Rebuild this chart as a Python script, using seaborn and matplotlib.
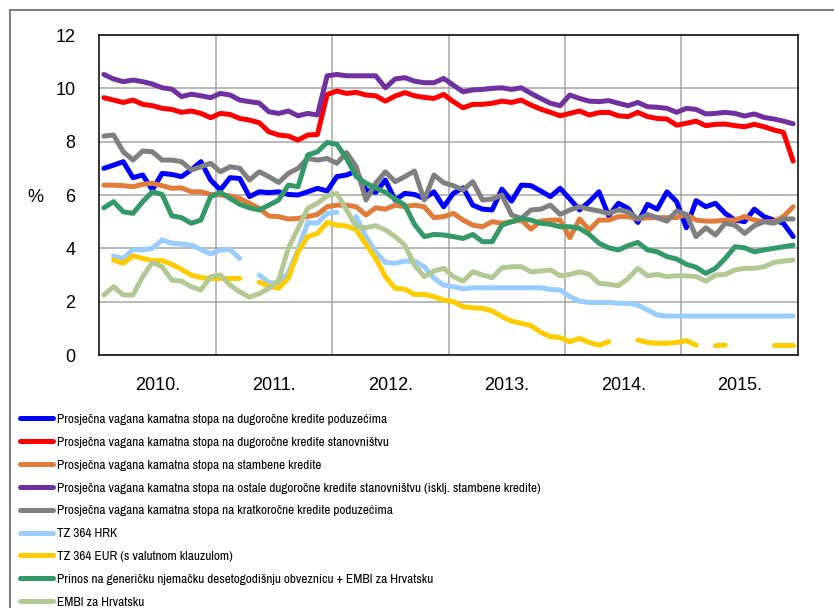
import matplotlib
matplotlib.use("Agg")
import matplotlib.pyplot as plt
import numpy as np
import pandas as pd
import seaborn as sns
from matplotlib.lines import Line2D
from matplotlib import font_manager as fm

N = None
# ---- data (monthly, Jan 2010 - Dec 2015) ----
year_labels = ["2010.", "2011.", "2012.", "2013.", "2014.", "2015."]

dugorocni_poduzeca = [
    7.0, 7.12, 7.25, 6.65, 6.75, 6.19, 6.81, 6.77, 6.69, 6.94, 7.25, 6.56, 6.19, 6.65, 6.62, 5.94, 6.12, 6.09,
    6.12, 6.02, 6.0, 6.12, 6.25, 6.15, 6.69, 6.75, 6.9, 6.19, 6.1, 6.56, 5.81, 6.06, 6.02, 5.87, 6.12, 5.56,
    6.06, 6.27, 5.62, 5.47, 5.44, 6.22, 5.77, 6.37, 6.35, 6.15, 5.94, 6.25, 5.85, 5.44, 5.75, 6.12, 5.22, 5.69,
    5.5, 4.97, 5.65, 5.47, 6.12, 5.75, 4.77, 5.79, 5.56, 5.69, 5.31, 5.06, 5.0, 5.47, 5.19, 5.06, 4.94, 4.44]

dugorocni_stanovnistvo = [
    9.65, 9.56, 9.47, 9.56, 9.4, 9.35, 9.25, 9.21, 9.1, 9.15, 9.06, 8.9, 9.06, 9.02, 8.87, 8.81, 8.71, 8.37,
    8.25, 8.21, 8.06, 8.25, 8.27, 9.77, 9.9, 9.81, 9.85, 9.75, 9.72, 9.52, 9.71, 9.84, 9.72, 9.66, 9.62, 9.77,
    9.5, 9.27, 9.4, 9.4, 9.44, 9.52, 9.47, 9.56, 9.37, 9.22, 9.1, 8.97, 9.06, 9.15, 9.0, 9.09, 9.1, 8.97,
    8.94, 9.1, 8.94, 8.87, 8.85, 8.62, 8.69, 8.77, 8.6, 8.65, 8.66, 8.6, 8.56, 8.65, 8.56, 8.44, 8.35, 7.27]

stambeni = [
    6.37, 6.37, 6.35, 6.31, 6.4, 6.44, 6.35, 6.25, 6.27, 6.12, 6.12, 6.02, 6.0, 5.97, 5.87, 5.69, 5.5, 5.21,
    5.19, 5.1, 5.12, 5.19, 5.27, 5.56, 5.62, 5.62, 5.56, 5.25, 5.52, 5.47, 5.62, 5.56, 5.62, 5.56, 5.15, 5.19,
    5.31, 5.06, 4.87, 4.81, 5.0, 4.94, 5.0, 5.06, 4.72, 5.02, 5.06, 5.06, 4.4, 5.1, 4.69, 5.06, 5.06, 5.19,
    5.19, 5.1, 5.15, 5.15, 5.15, 5.15, 5.27, 5.06, 5.02, 5.02, 5.06, 5.06, 5.19, 5.06, 5.0, 5.0, 5.19, 5.56]

ostali_stanovnistvo = [
    10.52, 10.35, 10.25, 10.31, 10.25, 10.16, 10.02, 9.97, 9.69, 9.78, 9.72, 9.65, 9.81, 9.75, 9.56, 9.5, 9.45, 9.12,
    9.06, 9.15, 8.97, 9.06, 9.0, 10.47, 10.52, 10.47, 10.47, 10.47, 10.47, 10.02, 10.35, 10.4, 10.27, 10.21, 10.21, 10.37,
    10.12, 9.87, 9.94, 9.96, 10.0, 10.02, 9.96, 10.02, 9.81, 9.62, 9.44, 9.35, 9.75, 9.62, 9.52, 9.5, 9.54, 9.44,
    9.35, 9.47, 9.31, 9.29, 9.25, 9.1, 9.25, 9.21, 9.04, 9.06, 9.1, 9.06, 8.96, 9.04, 8.91, 8.85, 8.77, 8.67]

kratkorocni_poduzeca = [
    8.21, 8.25, 7.62, 7.31, 7.65, 7.62, 7.31, 7.31, 7.25, 6.94, 7.06, 7.19, 6.87, 7.06, 7.0, 6.56, 6.87, 6.69,
    6.47, 6.81, 7.0, 7.37, 7.31, 7.37, 7.19, 7.59, 7.06, 5.81, 6.44, 6.87, 6.5, 6.69, 6.9, 5.81, 6.75, 6.46,
    6.35, 6.19, 6.5, 5.81, 5.85, 6.0, 5.25, 5.12, 5.44, 5.47, 5.62, 5.27, 5.44, 5.56, 5.47, 5.4, 5.31, 5.44,
    5.37, 5.1, 5.27, 5.15, 5.02, 5.4, 5.27, 4.44, 4.77, 4.5, 4.94, 4.87, 4.56, 4.85, 5.0, 4.94, 5.1, 5.1]

tz_hrk = [
    N, 3.71, 3.62, 3.96, 3.94, 4.0, 4.31, 4.19, 4.16, 4.12, 3.96, 3.79, 3.94, 3.96, 3.62, N, 3.0, 2.71,
    2.68, 3.08, 3.95, 4.97, 4.94, 5.31, 5.35, N, 5.19, 4.44, 3.87, 3.47, 3.44, 3.52, 3.52, 3.31, 2.88, 2.62,
    2.56, 2.48, 2.52, 2.52, 2.52, 2.52, 2.52, 2.52, 2.52, 2.52, 2.46, 2.44, 2.19, 2.02, 1.97, 1.97, 1.97, 1.94,
    1.94, 1.87, 1.69, 1.5, 1.46, 1.46, 1.46, 1.46, 1.46, 1.46, 1.46, 1.46, 1.46, 1.46, 1.46, 1.46, 1.46, 1.46]

tz_eur = [
    N, 3.56, 3.44, 3.72, 3.62, 3.54, 3.54, 3.4, 3.21, 3.0, 2.9, 2.87, 2.87, 2.87, 2.87, N, 2.73, 2.58,
    2.5, 2.88, 3.87, 4.44, 4.56, 4.97, 4.87, 4.84, 4.69, 4.15, 3.62, 2.94, 2.5, 2.47, 2.27, 2.27, 2.19, 2.06,
    2.0, 1.81, 1.77, 1.75, 1.65, 1.44, 1.27, 1.19, 1.1, 0.85, 0.69, 0.65, 0.5, 0.62, 0.47, 0.37, 0.5, N,
    N, 0.56, 0.47, 0.44, 0.44, 0.47, 0.54, 0.37, N, 0.35, 0.37, N, N, N, N, 0.37, 0.37, 0.37]

bund_embi = [
    5.52, 5.75, 5.37, 5.31, 5.75, 6.12, 6.02, 5.22, 5.15, 4.94, 5.06, 5.94, 6.1, 5.87, 5.65, 5.52, 5.44, 5.62,
    5.81, 6.37, 6.31, 7.5, 7.62, 7.97, 7.9, 7.37, 6.69, 6.44, 6.27, 6.1, 5.85, 5.62, 4.9, 4.44, 4.52, 4.5,
    4.44, 4.37, 4.52, 4.25, 4.25, 4.87, 5.0, 5.12, 5.06, 4.94, 4.9, 4.81, 4.81, 4.75, 4.52, 4.19, 4.02, 3.94,
    4.1, 4.22, 3.94, 3.87, 3.69, 3.6, 3.4, 3.29, 3.06, 3.25, 3.62, 4.06, 4.02, 3.87, 3.94, 4.0, 4.06, 4.12]

embi = [
    2.25, 2.56, 2.25, 2.25, 2.94, 3.47, 3.31, 2.81, 2.77, 2.56, 2.44, 2.94, 3.0, 2.62, 2.37, 2.17, 2.3, 2.5,
    2.8, 4.0, 4.75, 5.5, 5.69, 5.97, 6.06, 5.44, 4.81, 4.77, 4.85, 4.69, 4.44, 4.12, 3.37, 2.94, 3.15, 3.25,
    2.94, 2.77, 3.12, 3.0, 2.9, 3.27, 3.31, 3.31, 3.12, 3.15, 3.19, 2.97, 3.02, 3.12, 3.02, 2.69, 2.65, 2.6,
    2.87, 3.25, 2.97, 3.02, 2.94, 2.97, 2.97, 2.94, 2.77, 3.0, 3.02, 3.19, 3.25, 3.25, 3.31, 3.47, 3.52, 3.56]

series_names = [
    "Prosječna vagana kamatna stopa na dugoročne kredite poduzećima",
    "Prosječna vagana kamatna stopa na dugoročne kredite stanovništvu",
    "Prosječna vagana kamatna stopa na stambene kredite",
    "Prosječna vagana kamatna stopa na ostale dugoročne kredite stanovništvu (isklj. stambene kredite)",
    "Prosječna vagana kamatna stopa na kratkoročne kredite poduzećima",
    "TZ 364 HRK",
    "TZ 364 EUR (s valutnom klauzulom)",
    "Prinos na generičku njemačku desetogodišnju obveznicu + EMBI za Hrvatsku",
    "EMBI za Hrvatsku",
]
series_values = [dugorocni_poduzeca, dugorocni_stanovnistvo, stambeni, ostali_stanovnistvo,
                 kratkorocni_poduzeca, tz_hrk, tz_eur, bund_embi, embi]
colors = ["#0000FF", "#FF0000", "#E07B39", "#7030A0", "#808080",
          "#99CCFF", "#FFCC00", "#339966", "#B3C994"]

# ---- long table, with a segment id so gaps stay gaps ----
rows = []
for name, vals in zip(series_names, series_values):
    seg = 0
    prev_none = True
    for i, v in enumerate(vals):
        if v is None:
            prev_none = True
            continue
        if prev_none:
            seg += 1
            prev_none = False
        rows.append({"month": i, "value": v, "series": name, "seg": f"{name}|{seg}"})
df = pd.DataFrame(rows)

plt.rcParams["font.family"] = ["Liberation Sans", "DejaVu Sans"]

# pick a narrow font for the legend, if one is installed
legend_prop = None
for f in fm.fontManager.ttflist:
    if f.name == "Liberation Sans Narrow" and f.style == "normal" and f.weight in (400, "normal", "regular"):
        legend_prop = fm.FontProperties(fname=f.fname)
        break
if legend_prop is None:
    for f in fm.fontManager.ttflist:
        fn = f.fname.lower()
        if "narrow" in fn and "bold" not in fn and "italic" not in fn:
            legend_prop = fm.FontProperties(fname=f.fname)
            break
if legend_prop is None:
    for f in fm.fontManager.ttflist:
        fn = f.fname.lower()
        if "dejavusanscondensed.ttf" in fn:
            legend_prop = fm.FontProperties(fname=f.fname)
            break
legend_size = 9.6
if legend_prop is None:
    legend_prop = fm.FontProperties(family=["Liberation Sans", "DejaVu Sans"])
    legend_size = 9.0
legend_prop.set_size(legend_size)
fs_px = legend_size * 100 / 72.0

W, H = 834, 608
fig = plt.figure(figsize=(W / 100, H / 100), dpi=100)
ax = fig.add_axes([99 / W, 1 - 355 / H, (798 - 99) / W, (355 - 35) / H])

sns.lineplot(data=df, x="month", y="value", hue="series", units="seg", estimator=None,
             hue_order=series_names, palette=dict(zip(series_names, colors)),
             linewidth=3.6, legend=False, ax=ax, solid_capstyle="round", solid_joinstyle="round")

ax.set_xlim(-0.5, 71.5)
ax.set_ylim(0, 12)
ax.set_yticks(np.arange(0, 13, 2))
ax.set_xticks([11.5, 23.5, 35.5, 47.5, 59.5])
ax.set_xticklabels([])
ax.set_xticks([5.5 + 12 * k for k in range(6)], minor=True)
ax.set_xticklabels(year_labels, minor=True)
ax.tick_params(axis="x", which="both", length=0)
ax.tick_params(axis="x", which="minor", labelsize=13, pad=16)
ax.tick_params(axis="y", length=0, labelsize=13, pad=17)
ax.grid(True, which="major", color="#A6A6A6", linewidth=1.1)
ax.set_axisbelow(True)
for s in ax.spines.values():
    s.set_color("#000000")
    s.set_linewidth(1.1)
ax.set_xlabel("")
ax.set_ylabel("")
fig.text(35 / W, 1 - 197 / H, "%", fontsize=13, ha="center", va="center")

# outer chart frame (top and left visible)
fig.add_artist(Line2D([10 / W, 1.0], [1 - 10 / H, 1 - 10 / H], transform=fig.transFigure,
                      color="#7F7F7F", linewidth=1.5))
fig.add_artist(Line2D([10 / W, 10 / W], [1 - 10 / H, 0], transform=fig.transFigure,
                      color="#7F7F7F", linewidth=1.5))

handles = [Line2D([], [], color=c, linewidth=3.6, solid_capstyle="round") for c in colors]
text_h = 0.863 * fs_px
fig.legend(handles, series_names, loc="upper left",
           bbox_to_anchor=(20 / W, 1 - (419.5 - text_h / 2) / H),
           bbox_transform=fig.transFigure, frameon=False, borderpad=0, borderaxespad=0,
           handlelength=33 / fs_px, handletextpad=4 / fs_px,
           labelspacing=(23 - text_h) / fs_px, prop=legend_prop)

fig.savefig("out.png", dpi=100)
